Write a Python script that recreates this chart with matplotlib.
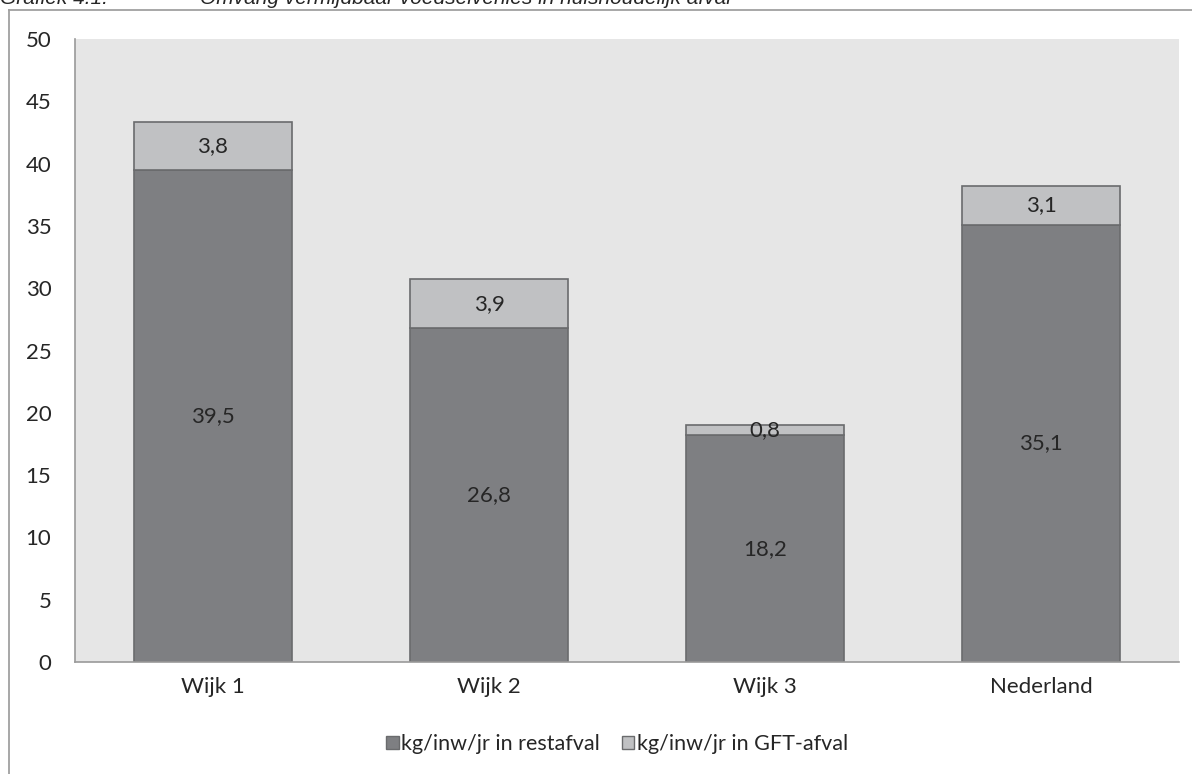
import matplotlib
matplotlib.use("Agg")
import matplotlib.pyplot as plt
from matplotlib.lines import Line2D
from matplotlib.patches import Patch
import numpy as np

categories = ["Wijk 1", "Wijk 2", "Wijk 3", "Nederland"]
restafval = [39.5, 26.8, 18.2, 35.1]
gft = [3.8, 3.9, 0.8, 3.1]
series_labels = ["kg/inw/jr in restafval", "kg/inw/jr in GFT-afval"]
yticks = [0, 5, 10, 15, 20, 25, 30, 35, 40, 45, 50]

plt.rcParams['font.family'] = ['Lato', 'DejaVu Sans']
W, H = 1192, 774
fig = plt.figure(figsize=(W / 100, H / 100), dpi=100)
fig.patch.set_facecolor("white")

# plot area in pixels
left, right, top, bottom = 75, 1179, 39, 662
ax = fig.add_axes([left / W, 1 - bottom / H, (right - left) / W, (bottom - top) / H])
ax.set_facecolor("#e6e6e6")

dark = "#7e7f82"
light = "#c0c1c3"
edge = "#6a6b6d"
x = np.arange(len(categories))
bw = 0.573
ax.bar(x, restafval, width=bw, color=dark, edgecolor=edge, linewidth=1.2, zorder=2)
ax.bar(x, gft, bottom=restafval, width=bw, color=light, edgecolor=edge, linewidth=1.2, zorder=2)

txtc = "#262626"
fs = 16
for i in range(len(categories)):
    ax.text(x[i], restafval[i] / 2, f"{restafval[i]:.1f}".replace(".", ","),
            ha="center", va="center", fontsize=fs, color=txtc, zorder=3)
    ax.text(x[i], restafval[i] + gft[i] / 2, f"{gft[i]:.1f}".replace(".", ","),
            ha="center", va="center", fontsize=fs, color=txtc, zorder=3)

ax.set_xlim(-0.5, len(categories) - 0.5)
ax.set_ylim(0, 50)
ax.set_yticks(yticks)
ax.set_yticklabels([str(v) for v in yticks])
ax.set_xticks(x)
ax.set_xticklabels(categories)
ax.tick_params(axis="both", length=0, labelsize=fs, colors=txtc)
ax.tick_params(axis="y", pad=17)
ax.tick_params(axis="x", pad=11)
for s in ["top", "right"]:
    ax.spines[s].set_visible(False)
for s in ["left", "bottom"]:
    ax.spines[s].set_color("#9a9a9a")
    ax.spines[s].set_linewidth(1.2)

handles = [Patch(facecolor=dark, edgecolor=edge), Patch(facecolor=light, edgecolor=edge)]
fig.legend(handles, series_labels, loc="center", bbox_to_anchor=(617 / W, 1 - 744 / H),
           ncol=2, frameon=False, fontsize=15.5, handlelength=0.6, handleheight=0.6,
           handletextpad=0.1, columnspacing=1.0, labelcolor=txtc)

# outer frame
fig.add_artist(Line2D([9 / W, 9 / W], [0, 1 - 10 / H], transform=fig.transFigure,
                      color="#a0a0a0", linewidth=1.3))
fig.add_artist(Line2D([9 / W, 1], [1 - 10 / H, 1 - 10 / H], transform=fig.transFigure,
                      color="#a0a0a0", linewidth=1.3))

# caption at top (cut off by the image edge, as in the reference)
fig.text(0 / W, 1 - 4 / H, "Grafiek 4.1:", fontsize=15, style="italic", color=txtc,
         family="Liberation Sans", ha="left", va="baseline")
fig.text(200 / W, 1 - 4 / H, "Omvang vermijdbaar voedselverlies in huishoudelijk afval",
         fontsize=15, style="italic", color=txtc, family="Liberation Sans",
         ha="left", va="baseline")

fig.savefig("out.png", dpi=100, facecolor="white")
